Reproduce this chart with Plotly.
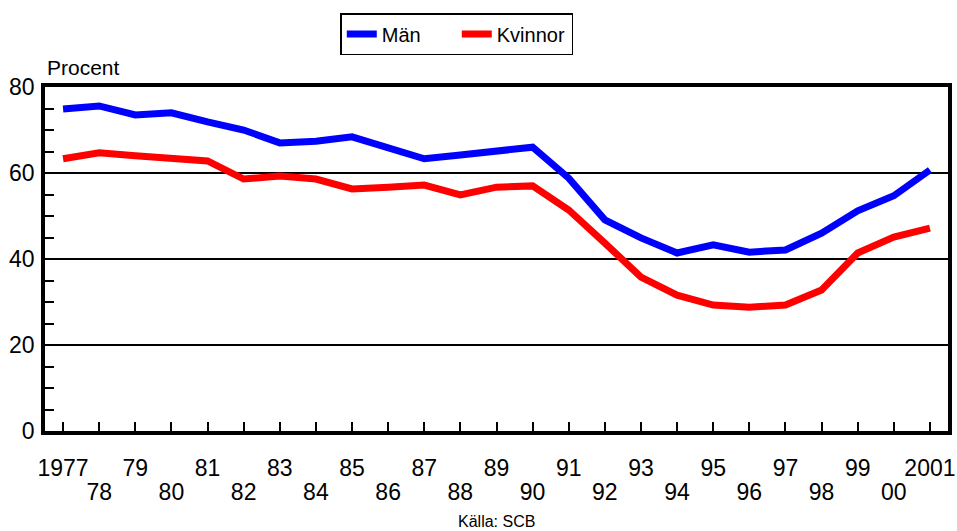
import plotly.graph_objects as go

# Years 1977-2001
years = list(range(1977, 2002))

# Share employed (Procent)
man = [74.9, 75.6, 73.5, 74.0, 71.9, 70.0, 67.0, 67.4, 68.4, 66.0, 63.3, 64.2, 65.1,
       66.0, 58.8, 49.1, 44.9, 41.4, 43.3, 41.6, 42.1, 46.0, 51.2, 54.7, 60.7]
kvinnor = [63.3, 64.7, 64.0, 63.3, 62.8, 58.6, 59.3, 58.6, 56.3, 56.7, 57.2, 54.9, 56.7,
           57.0, 51.4, 43.7, 35.8, 31.6, 29.3, 28.8, 29.3, 32.8, 41.4, 45.1, 47.2]


# Staggered tick labels: odd years on the top row, even years on the row below
def short(y):
    return str(y) if y in (1977, 2001) else f"{y % 100:02d}"


top_row = [short(y) if (y - 1977) % 2 == 0 else "" for y in years]
even_years = [y for y in years if (y - 1977) % 2 == 1]
bottom_row = [short(y) for y in even_years]

y_ticks = [0, 20, 40, 60, 80]

FONT = "Arial, Liberation Sans, sans-serif"

fig = go.Figure()
fig.add_trace(go.Scatter(x=years, y=man, mode="lines", name="Män",
                         line=dict(color="#0000FF", width=7)))
fig.add_trace(go.Scatter(x=years, y=kvinnor, mode="lines", name="Kvinnor",
                         line=dict(color="#FF0000", width=7)))
# empty trace so the second (label-only) x axis gets drawn
fig.add_trace(go.Scatter(x=[years[0]], y=[None], xaxis="x2", showlegend=False,
                         hoverinfo="skip"))

fig.update_layout(
    width=957, height=531,
    template="simple_white",
    paper_bgcolor="white", plot_bgcolor="white",
    margin=dict(l=45, r=9, t=87, b=100, autoexpand=False),
    font=dict(family=FONT, size=22, color="black"),
    showlegend=True,
    legend=dict(
        orientation="h",
        x=0.327, xanchor="left",
        y=1.215, yanchor="top",
        bordercolor="black", borderwidth=1.5,
        font=dict(size=20),
        itemwidth=30,
        entrywidth=70,
        tracegroupgap=0,
    ),
    annotations=[
        dict(text="Procent", xref="paper", yref="paper", x=0.0, y=1.016,
             xanchor="left", yanchor="bottom", showarrow=False,
             font=dict(size=21)),
        dict(text="Källa: SCB", xref="paper", yref="paper", x=0.5, y=-0.262,
             xanchor="center", yanchor="middle", showarrow=False,
             font=dict(size=16)),
    ],
    xaxis=dict(
        range=[1976.5, 2001.5],
        tickvals=years, ticktext=top_row, tickangle=0,
        ticks="inside", ticklen=9, tickwidth=1.5, tickcolor="black",
        showline=True, linewidth=3.5, linecolor="black", mirror=True,
        showgrid=False, zeroline=False,
        tickfont=dict(size=23),
        ticklabelstandoff=14,
        automargin=False,
    ),
    xaxis2=dict(
        overlaying="x", anchor="y", side="bottom",
        range=[1976.5, 2001.5],
        tickvals=even_years, ticktext=bottom_row, tickangle=0,
        ticks="", showline=False, showgrid=False, zeroline=False,
        tickfont=dict(size=23),
        ticklabelstandoff=45,
        automargin=False,
    ),
    yaxis=dict(
        range=[0, 80],
        tickvals=y_ticks,
        ticks="inside", ticklen=9, tickwidth=1.5, tickcolor="black",
        minor=dict(dtick=5, ticks="inside", ticklen=9, tickwidth=1.5,
                   tickcolor="black", showgrid=False),
        showline=True, linewidth=3.5, linecolor="black", mirror=True,
        showgrid=True, gridcolor="black", gridwidth=1.5,
        zeroline=False,
        tickfont=dict(size=23),
        ticklabelstandoff=2,
        automargin=False,
    ),
)

# drop the browser's default 8px body margin so the figure fills the window
fig.write_html("out.html", config={"displayModeBar": False},
               post_script="document.body.style.margin='0';")
